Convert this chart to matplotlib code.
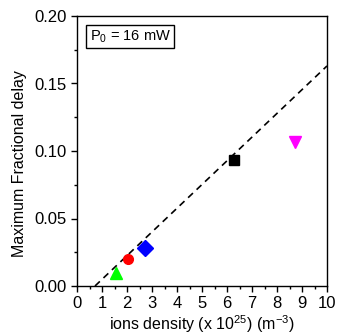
import numpy as np
import matplotlib.pyplot as plt
from matplotlib.ticker import MultipleLocator

plt.rcParams['font.family'] = ['Liberation Sans', 'DejaVu Sans']
plt.rcParams['mathtext.fontset'] = 'custom'
plt.rcParams['mathtext.rm'] = 'Liberation Sans'

# measured points (ion density x1e25 m^-3, max fractional delay)
density = [1.56, 2.05, 2.72, 6.28, 8.72]
delay = [0.010, 0.020, 0.028, 0.093, 0.107]
markers = ['^', 'o', 'D', 's', 'v']
colors = ['#00ff00', '#ff0000', '#0000ff', '#000000', '#ff00ff']
sizes = [9, 7, 8, 7, 9]

# linear fit line end points
fit_x = [0.72, 10.0]
fit_y = [0.0, 0.163]

fig = plt.figure(figsize=(3.4, 3.35), dpi=100)
ax = fig.add_axes([77/340, 1 - 286/335, 250/340, 270/335])

ax.plot(fit_x, fit_y, 'k--', lw=1.2, dashes=(4, 3))
for x, y, m, c, s in zip(density, delay, markers, colors, sizes):
    ax.plot(x, y, marker=m, color=c, ms=s, ls='none')

ax.set_xlim(0, 10)
ax.set_ylim(0, 0.2)
ax.xaxis.set_major_locator(MultipleLocator(1))
ax.xaxis.set_minor_locator(MultipleLocator(0.5))
ax.yaxis.set_major_locator(MultipleLocator(0.05))
ax.yaxis.set_minor_locator(MultipleLocator(0.025))
ax.yaxis.set_major_formatter(plt.FormatStrFormatter('%.2f'))
ax.tick_params(which='major', direction='out', length=4, width=1, labelsize=12)
ax.tick_params(which='minor', direction='out', length=2, width=1)
for s in ax.spines.values():
    s.set_linewidth(1)

ax.set_xlabel('ions density (x 10$^{25}$) (m$^{-3}$)', fontsize=11.5, labelpad=1)
ax.set_ylabel('Maximum Fractional delay', fontsize=11.5)
ax.yaxis.set_label_coords(-0.2, 0.455)

ax.text(0.05, 0.955, 'P$_0$ = 16 mW', transform=ax.transAxes, fontsize=10.5,
        va='top', ha='left',
        bbox=dict(boxstyle='square,pad=0.25', fc='white', ec='black', lw=1))

fig.savefig('out.png', dpi=100)
